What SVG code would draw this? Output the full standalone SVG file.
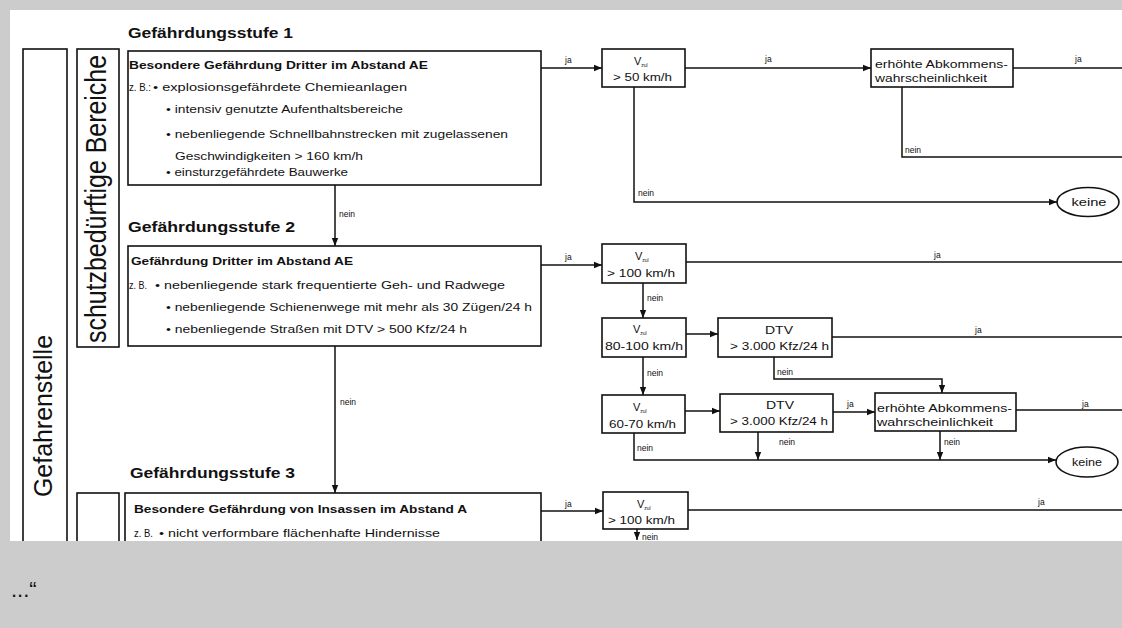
<svg xmlns="http://www.w3.org/2000/svg" width="1122" height="628" viewBox="0 0 1122 628">
<defs>
<style>
.t{font-family:"Liberation Sans",Arial,sans-serif;fill:#111}
.b{font-weight:bold}
.f10{font-size:10.5px}
.f11{font-size:11px}
.lb{font-family:"Liberation Sans",Arial,sans-serif;fill:#111;font-size:8.5px}
.sub{font-size:5px}
.box{fill:#fff;stroke:#111;stroke-width:1.6}
.ln{fill:none;stroke:#111;stroke-width:1.5}
.ar{marker-end:url(#ah)}
</style>
<marker id="ah" viewBox="0 0 10 10" refX="10" refY="5" markerWidth="8" markerHeight="8" markerUnits="userSpaceOnUse" orient="auto"><path d="M0,1 L10,5 L0,9 z" fill="#111"/></marker>
</defs>
<rect width="1122" height="628" fill="#cccccc"/>
<rect x="10" y="10" width="1112" height="531" fill="#fff"/>

<g id="connectors">
<path class="ln ar" d="M541,68 H602"/>
<path class="ln ar" d="M685,68 H871"/>
<path class="ln" d="M1013,68 H1122"/>
<path class="ln" d="M902,87 V157 H1122"/>
<path class="ln ar" d="M634,87 V202 H1057"/>
<path class="ln ar" d="M335,185 V246"/>
<path class="ln ar" d="M541,265 H602"/>
<path class="ln" d="M686,262 H1122"/>
<path class="ln ar" d="M643,283 V318"/>
<path class="ln ar" d="M686,334 H718"/>
<path class="ln" d="M832,337 H1122"/>
<path class="ln ar" d="M774,357 V379 H942 V393"/>
<path class="ln ar" d="M643,357 V395"/>
<path class="ln ar" d="M685,411 H720"/>
<path class="ln ar" d="M833,412 H875"/>
<path class="ln" d="M1016,410 H1122"/>
<path class="ln ar" d="M758,432 V460"/>
<path class="ln ar" d="M940,431 V460"/>
<path class="ln ar" d="M634,433 V460 H1056"/>
<path class="ln ar" d="M335,346 V493"/>
<path class="ln ar" d="M541,511 H603"/>
<path class="ln" d="M688,510 H1122"/>
<path class="ln ar" d="M637,529 V540"/>
<text class="lb" x="565" y="63">ja</text>
<text class="lb" x="765" y="62">ja</text>
<text class="lb" x="1075" y="62">ja</text>
<text class="lb" x="905" y="153">nein</text>
<text class="lb" x="638" y="196">nein</text>
<text class="lb" x="339" y="217">nein</text>
<text class="lb" x="565" y="260">ja</text>
<text class="lb" x="934" y="258">ja</text>
<text class="lb" x="647" y="301">nein</text>
<text class="lb" x="975" y="333">ja</text>
<text class="lb" x="777" y="375">nein</text>
<text class="lb" x="647" y="376">nein</text>
<text class="lb" x="847" y="407">ja</text>
<text class="lb" x="1082" y="407">ja</text>
<text class="lb" x="779" y="445">nein</text>
<text class="lb" x="944" y="445">nein</text>
<text class="lb" x="637" y="451">nein</text>
<text class="lb" x="340" y="405">nein</text>
<text class="lb" x="565" y="507">ja</text>
<text class="lb" x="1038" y="505">ja</text>
<text class="lb" x="642" y="540">nein</text>
</g>

<g id="gefahrenstelle">
<rect class="box" x="23" y="49" width="44" height="570"/>
<text class="t" font-size="26" text-anchor="middle" transform="translate(52,416) rotate(-90)" textLength="162" lengthAdjust="spacingAndGlyphs">Gefahrenstelle</text>
</g>

<g id="schutzbeduerftige-bereiche">
<rect class="box" x="77" y="49" width="42" height="298"/>
<text class="t" font-size="29" text-anchor="middle" transform="translate(106,199) rotate(-90)" textLength="288" lengthAdjust="spacingAndGlyphs">schutzbedürftige Bereiche</text>
</g>

<g id="stufe3-left">
<rect class="box" x="77" y="493" width="42" height="130"/>
</g>

<g id="stufe1">
<text class="t b" x="128" y="38" font-size="15" textLength="165" lengthAdjust="spacingAndGlyphs">Gefährdungsstufe 1</text>
<rect class="box" x="128" y="51" width="413" height="134"/>
<text class="t b f10" x="129" y="69" textLength="299" lengthAdjust="spacingAndGlyphs">Besondere Gefährdung Dritter im Abstand AE</text>
<text class="t f10" x="129" y="91" textLength="22" lengthAdjust="spacingAndGlyphs">z. B.:</text>
<text class="t f10" x="153" y="91" textLength="254" lengthAdjust="spacingAndGlyphs">• explosionsgefährdete Chemieanlagen</text>
<text class="t f10" x="166" y="113" textLength="237" lengthAdjust="spacingAndGlyphs">• intensiv genutzte Aufenthaltsbereiche</text>
<text class="t f10" x="166" y="138" textLength="342" lengthAdjust="spacingAndGlyphs">• nebenliegende Schnellbahnstrecken mit zugelassenen</text>
<text class="t f10" x="175" y="160" textLength="188" lengthAdjust="spacingAndGlyphs">Geschwindigkeiten &gt; 160 km/h</text>
<text class="t f10" x="166" y="176" textLength="182" lengthAdjust="spacingAndGlyphs">• einsturzgefährdete Bauwerke</text>
</g>

<g id="stufe2">
<text class="t b" x="128" y="232" font-size="15" textLength="167" lengthAdjust="spacingAndGlyphs">Gefährdungsstufe 2</text>
<rect class="box" x="128" y="246" width="413" height="100"/>
<text class="t b f10" x="131" y="265" textLength="222" lengthAdjust="spacingAndGlyphs">Gefährdung Dritter im Abstand AE</text>
<text class="t f10" x="129" y="289" textLength="18" lengthAdjust="spacingAndGlyphs">z. B.</text>
<text class="t f10" x="155" y="289" textLength="350" lengthAdjust="spacingAndGlyphs">• nebenliegende stark frequentierte Geh- und Radwege</text>
<text class="t f10" x="166" y="311" textLength="366" lengthAdjust="spacingAndGlyphs">• nebenliegende Schienenwege mit mehr als 30 Zügen/24 h</text>
<text class="t f10" x="166" y="333" textLength="301" lengthAdjust="spacingAndGlyphs">• nebenliegende Straßen mit DTV &gt; 500 Kfz/24 h</text>
</g>

<g id="stufe3">
<text class="t b" x="130" y="478" font-size="15" textLength="165" lengthAdjust="spacingAndGlyphs">Gefährdungsstufe 3</text>
<rect class="box" x="125" y="493" width="416" height="130"/>
<text class="t b f10" x="134" y="513" textLength="333" lengthAdjust="spacingAndGlyphs">Besondere Gefährdung von Insassen im Abstand A</text>
<text class="t f10" x="134" y="537" textLength="19" lengthAdjust="spacingAndGlyphs">z. B.</text>
<text class="t f10" x="159" y="537" textLength="281" lengthAdjust="spacingAndGlyphs">• nicht verformbare flächenhafte Hindernisse</text>
</g>

<g id="vzul-50">
<rect class="box" x="602" y="49" width="83" height="38"/>
<text class="t f11" x="634" y="65">V<tspan class="sub" dy="2">zul</tspan></text>
<text class="t f11" x="613" y="81" textLength="59" lengthAdjust="spacingAndGlyphs">&gt; 50 km/h</text>
</g>

<g id="erhoehte-1">
<rect class="box" x="871" y="49" width="142" height="38"/>
<text class="t f10" x="875" y="68" textLength="133" lengthAdjust="spacingAndGlyphs">erhöhte Abkommens-</text>
<text class="t f10" x="875" y="82" textLength="112" lengthAdjust="spacingAndGlyphs">wahrscheinlichkeit</text>
</g>

<g id="keine-1">
<ellipse class="box" cx="1088" cy="202" rx="31" ry="14.5"/>
<text class="t f11" x="1089" y="206" text-anchor="middle" textLength="35" lengthAdjust="spacingAndGlyphs">keine</text>
</g>

<g id="vzul-100-a">
<rect class="box" x="602" y="244" width="84" height="39"/>
<text class="t f11" x="635" y="260">V<tspan class="sub" dy="2">zul</tspan></text>
<text class="t f11" x="607" y="277" textLength="68" lengthAdjust="spacingAndGlyphs">&gt; 100 km/h</text>
</g>

<g id="vzul-80-100">
<rect class="box" x="602" y="318" width="84" height="39"/>
<text class="t f11" x="633" y="333">V<tspan class="sub" dy="2">zul</tspan></text>
<text class="t f11" x="605" y="350" textLength="78" lengthAdjust="spacingAndGlyphs">80-100 km/h</text>
</g>

<g id="dtv-1">
<rect class="box" x="718" y="318" width="114" height="39"/>
<text class="t f11" x="765" y="334" textLength="28" lengthAdjust="spacingAndGlyphs">DTV</text>
<text class="t f11" x="730" y="350" textLength="99" lengthAdjust="spacingAndGlyphs">&gt; 3.000 Kfz/24 h</text>
</g>

<g id="vzul-60-70">
<rect class="box" x="602" y="395" width="83" height="38"/>
<text class="t f11" x="633" y="411">V<tspan class="sub" dy="2">zul</tspan></text>
<text class="t f11" x="609" y="428" textLength="67" lengthAdjust="spacingAndGlyphs">60-70 km/h</text>
</g>

<g id="dtv-2">
<rect class="box" x="720" y="394" width="113" height="38"/>
<text class="t f11" x="766" y="409" textLength="28" lengthAdjust="spacingAndGlyphs">DTV</text>
<text class="t f11" x="730" y="425" textLength="98" lengthAdjust="spacingAndGlyphs">&gt; 3.000 Kfz/24 h</text>
</g>

<g id="erhoehte-2">
<rect class="box" x="875" y="393" width="141" height="38"/>
<text class="t f10" x="877" y="412" textLength="135" lengthAdjust="spacingAndGlyphs">erhöhte Abkommens-</text>
<text class="t f10" x="877" y="426" textLength="116" lengthAdjust="spacingAndGlyphs">wahrscheinlichkeit</text>
</g>

<g id="keine-2">
<ellipse class="box" cx="1087" cy="462" rx="31" ry="15"/>
<text class="t f11" x="1087" y="466" text-anchor="middle" textLength="30" lengthAdjust="spacingAndGlyphs">keine</text>
</g>

<g id="vzul-100-b">
<rect class="box" x="603" y="492" width="85" height="37"/>
<text class="t f11" x="637" y="508">V<tspan class="sub" dy="2">zul</tspan></text>
<text class="t f11" x="608" y="524" textLength="67" lengthAdjust="spacingAndGlyphs">&gt; 100 km/h</text>
</g>

<rect x="0" y="541" width="1122" height="87" fill="#cccccc"/>
<text class="t" x="11" y="597" font-size="22">...“</text>
</svg>
